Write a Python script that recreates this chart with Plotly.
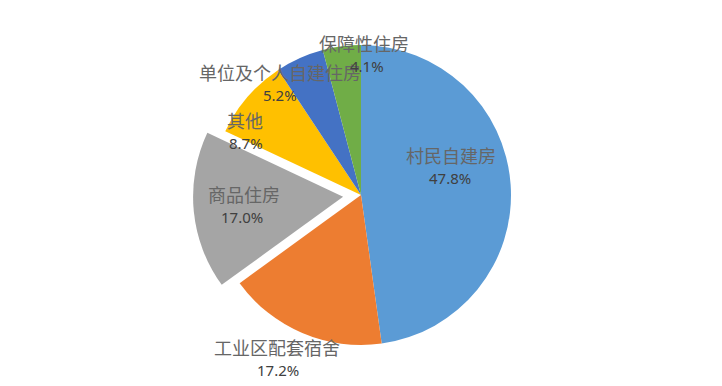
import plotly.graph_objects as go

categories = ["村民自建房", "工业区配套宿舍", "商品住房", "其他", "单位及个人自建住房", "保障性住房"]
shares = [47.8, 17.2, 17.0, 8.7, 5.2, 4.1]
colors = ["#5B9BD5", "#ED7D31", "#A5A5A5", "#FFC000", "#4472C4", "#70AD47"]
pulls = [0, 0, 0.12, 0, 0, 0]

# layout only (pixel positions from top-left)
W, H = 722, 386
name_pos = [(451, 155), (277, 347), (244, 194), (245, 120), (280, 72), (364, 43)]
pct_pos = [(450, 178), (278, 370), (242, 217), (246, 143), (280, 95), (367, 66)]
cx, cy, half = 361, 195, 168

fig = go.Figure(go.Pie(
    labels=categories,
    values=shares,
    sort=False,
    direction="clockwise",
    rotation=0,
    pull=pulls,
    marker=dict(colors=colors, line=dict(width=0)),
    textinfo="none",
    hoverinfo="label+percent",
    showlegend=False,
    domain=dict(x=[(cx - half) / W, (cx + half) / W],
                y=[(H - cy - half) / H, (H - cy + half) / H]),
))

annotations = []
for cat, val, (nx, ny), (px, py) in zip(categories, shares, name_pos, pct_pos):
    annotations.append(dict(
        x=nx / W, y=1 - ny / H, xref="paper", yref="paper",
        text=cat, showarrow=False, xanchor="center", yanchor="middle", borderpad=0,
        font=dict(family="Noto Sans CJK SC", size=18, color="#666666"),
    ))
    annotations.append(dict(
        x=px / W, y=1 - py / H, xref="paper", yref="paper",
        text=f"{val:.1f}%", showarrow=False, xanchor="center", yanchor="middle", borderpad=0,
        font=dict(family="Noto Sans, Noto Sans CJK SC", size=15, color="#404040"),
    ))

fig.update_layout(
    width=W, height=H,
    margin=dict(l=0, r=0, t=0, b=0),
    paper_bgcolor="white", plot_bgcolor="white",
    annotations=annotations,
)

fig.write_html("out.html", config={"displayModeBar": False},
               post_script="document.body.style.margin='0';")
